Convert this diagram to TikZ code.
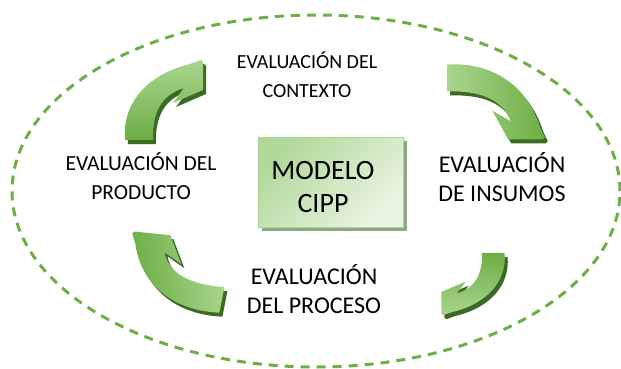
\documentclass[tikz,border=0pt]{standalone}
\usepackage{fontspec}
\setmainfont{Carlito}
\usetikzlibrary{shadows}
\definecolor{cippgreen}{HTML}{6DAE45}
\definecolor{cipplight}{HTML}{A9D68E}
\definecolor{cippdark}{HTML}{3C6A24}
\definecolor{cippboxa}{HTML}{B0D898}
\definecolor{cippboxb}{HTML}{EBF5E4}
\definecolor{cippshadow}{HTML}{8FA784}
\tikzset{
evaltext/.style={align=center, font=\fontsize{#1}{29}\selectfont, inner sep=0pt},
evaltext/.default=21,
cipptext/.style={align=center, font=\fontsize{28}{33}\selectfont, inner sep=0pt},
cippbox/.style={draw=cipplight, line width=1pt, shading=axis, top color=cippboxa, bottom color=cippboxb, shading angle=45, minimum width=145pt, minimum height=90pt, inner sep=0pt},
}
\newcommand{\cyclepath}{(-39,40) .. controls (-42,5) and (-19,-25) .. (26,-36) -- (37,-40) -- (39,-38) -- (39,-10) -- (9,3) -- (20,-12) .. controls (-4,-5) and (-12,15) .. (-11,40) -- cycle}
\newcommand{\cyclearrow}[4]{%
\fill[cippdark, shift={(#1)}, shift={(3,4)}, xscale=#3, yscale=#4, rotate=#2] \cyclepath;
\shade[top color=cipplight, bottom color=cippgreen, shading angle={-(#2)}, shift={(#1)}, xscale=#3, yscale=#4, rotate=#2] \cyclepath;
}
\begin{document}
\begin{tikzpicture}[x=1pt,y=-1pt]
\useasboundingbox (0,0) rectangle (621,369);
\draw[cippgreen, line width=3pt, dash pattern=on 9pt off 7pt] (316,191) ellipse [x radius=304pt, y radius=176pt];
\cyclearrow{164,100}{0}{1}{1}
\cyclearrow{496,102}{-90}{1.22}{0.96}
\cyclearrow{473,284}{180}{0.81}{0.78}
\cyclearrow{176,272}{82}{1.27}{0.92}
\node[cippbox, drop shadow={shadow xshift=4pt, shadow yshift=-4pt, fill=cippshadow, opacity=1}] (box) at (330.5,182) {};
\node[cipptext] (cipp) at (323,187) {MODELO\\CIPP};
\node[evaltext=20] (contexto) at (307,75) {EVALUACIÓN DEL\\CONTEXTO};
\node[evaltext=21.5] (producto) at (141,176) {EVALUACIÓN DEL\\PRODUCTO};
\node[evaltext=24] (insumos) at (502,177) {EVALUACIÓN\\DE INSUMOS};
\node[evaltext=24] (proceso) at (314,289) {EVALUACIÓN\\DEL PROCESO};
\end{tikzpicture}
\end{document}
